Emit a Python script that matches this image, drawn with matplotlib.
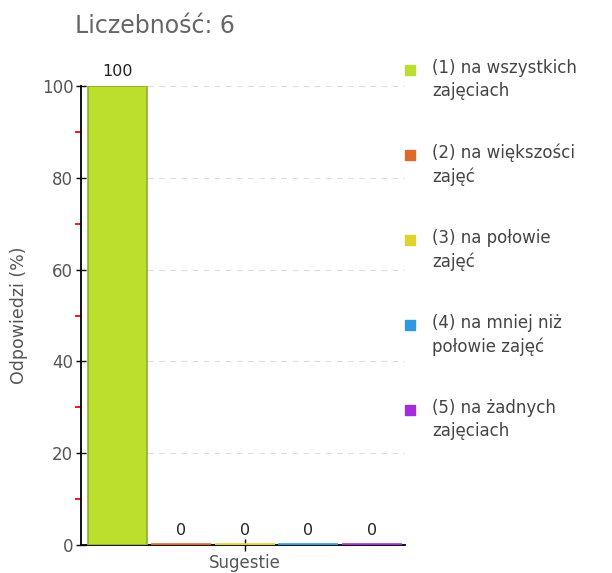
import matplotlib.pyplot as plt
from matplotlib.lines import Line2D

# data
labels = ["(1) na wszystkich\nzajęciach", "(2) na większości\nzajęć",
          "(3) na połowie\nzajęć", "(4) na mniej niż\npołowie zajęć",
          "(5) na żadnych\nzajęciach"]
values = [100, 0, 0, 0, 0]
colors = ["#bcdf2e", "#e0672a", "#e0d32a", "#2a9be0", "#a62ae0"]
edges = ["#8fb01a", "#c9561f", "#c9bd1f", "#1f86c9", "#8f1fc9"]
title = "Liczebność: 6"

W, H = 612, 573
fig = plt.figure(figsize=(W / 100, H / 100), dpi=100)
ax = fig.add_axes([81 / W, 1 - 545 / H, 324 / W, 459 / H])

x = list(range(len(values)))
bars = ax.bar(x, values, width=0.94, color=colors, edgecolor=edges, linewidth=1.2, zorder=3)
for b, c in zip(bars, colors):
    if b.get_height() == 0:
        b.set_edgecolor(c)
        b.set_linewidth(2.6)

for xi, v in zip(x, values):
    ax.text(xi, v + 1.6, str(v), ha="center", va="bottom", fontsize=11.5, color="#222", clip_on=False)

ax.set_xlim(-0.574, 4.52)
ax.set_ylim(0, 100)
ax.set_yticks(range(0, 101, 20))
ax.set_yticks(range(10, 100, 20), minor=True)
ax.set_xticks([2])
ax.set_xticklabels(["Sugestie"], fontsize=12, color="#555")
ax.tick_params(axis="y", which="major", direction="inout", length=7, width=1, labelsize=12, labelcolor="#555", pad=2)
ax.tick_params(axis="y", which="minor", direction="out", length=4, width=1.3, color="#ff0000")
ax.tick_params(axis="x", direction="inout", length=9, width=1, pad=2)
ax.yaxis.grid(True, which="major", linestyle=(0, (5, 5)), color="#dddddd", linewidth=0.8, zorder=0)
for s in ["top", "right"]:
    ax.spines[s].set_visible(False)
ax.spines["left"].set_linewidth(1.3)
ax.spines["bottom"].set_linewidth(1.3)
ax.set_ylabel("Odpowiedzi (%)", fontsize=12.5, color="#555", labelpad=10)

fig.text(75 / W, 1 - 26 / H, title, fontsize=17, color="#666", ha="left", va="center")

# legend drawn by hand: marker beside the first line of each label
for i, (lab, c) in enumerate(zip(labels, colors)):
    y = 70 + 85 * i
    fig.add_artist(Line2D([410 / W], [1 - y / H], transform=fig.transFigure,
                          marker="s", markersize=7, color=c, linestyle=""))
    fig.text(432 / W, 1 - (y - 11) / H, lab, fontsize=12, color="#444",
             ha="left", va="top", linespacing=1.35)

fig.savefig("out.png", dpi=100)
